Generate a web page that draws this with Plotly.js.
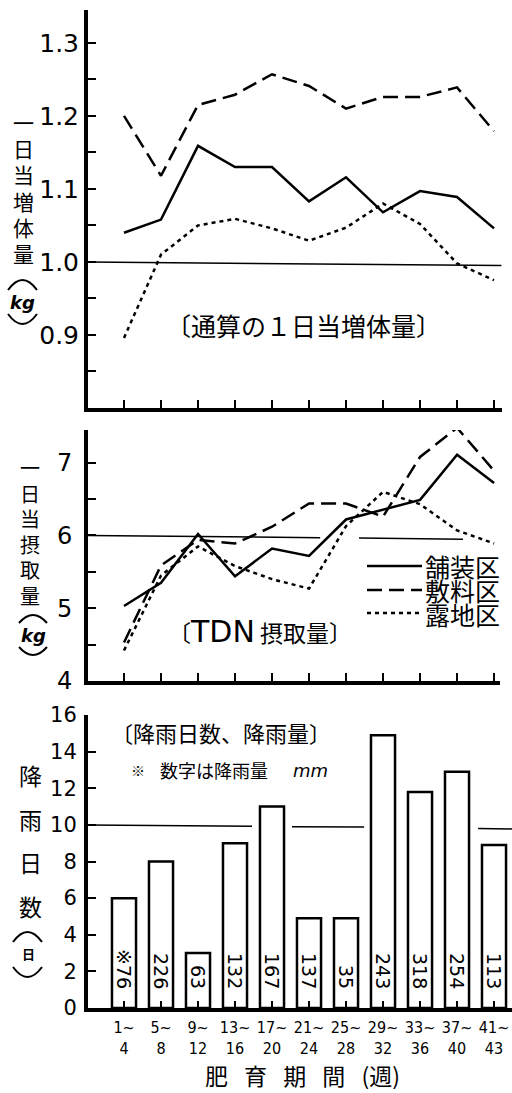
<!DOCTYPE html>
<html>
<head>
<meta charset="utf-8">
<script src="https://cdn.plot.ly/plotly-3.0.1.min.js"></script>
<style>html,body{margin:0;padding:0;background:#fff;}#chart{width:512px;height:1093px;}</style>
</head>
<body>
<div id="chart"></div>
<script>
// ---------- data ----------
const periods = ['1~4','5~8','9~12','13~16','17~20','21~24','25~28','29~32','33~36','37~40','41~43'];
const periodTickText = ['1~<br>4','5~<br>8','9~<br>12','13~<br>16','17~<br>20','21~<br>24','25~<br>28','29~<br>32','33~<br>36','37~<br>40','41~<br>43'];
const seriesNames = ['舗装区','敷料区','露地区'];

// 通算の1日当増体量 (kg)
const gainPaved   = [1.040,1.058,1.159,1.130,1.130,1.083,1.116,1.068,1.097,1.089,1.046];
const gainBedding = [1.200,1.118,1.215,1.229,1.257,1.241,1.210,1.226,1.226,1.239,1.179];
const gainOpen    = [0.896,1.010,1.050,1.059,1.046,1.029,1.047,1.080,1.052,0.998,0.975];

// TDN 摂取量 (kg)
const tdnPaved   = [5.03,5.35,6.02,5.44,5.82,5.72,6.22,6.35,6.49,7.11,6.72];
const tdnBedding = [4.53,5.59,5.94,5.89,6.12,6.44,6.44,6.26,7.08,7.48,6.89];
const tdnOpen    = [4.42,5.45,5.85,5.58,5.40,5.27,6.13,6.60,6.43,6.07,5.89];

// 降雨日数 (日) and 降雨量 (mm)
const rainDays   = [6,8,3,9,11,4.9,4.9,14.9,11.8,12.9,8.9];
const rainAmount = ['※76','226','63','132','167','137','35','243','318','254','113'];

// tick labels and titles
const gainTickVals = [0.85,0.9,0.95,1.0,1.05,1.1,1.15,1.2,1.25,1.3];
const gainTickText = ['','0.9','','1.0','','1.1','','1.2','','1.3'];
const tdnTickVals  = [4,4.5,5,5.5,6,6.5,7];
const tdnTickText  = ['4','','5','','6','','7'];
const rainTickVals = [0,2,4,6,8,10,12,14,16];
const rainTickText = ['0','2','4','6','8','10','12','14','16'];
const gainTitle = ['一','日','当','増','体','量'];
const tdnTitle  = ['一','日','当','摂','取','量'];
const rainTitle = ['降','雨','日','数'];

// ---------- helpers ----------
const W = 512, H = 1093;
const px = x => x / W;
const py = y => 1 - y / H;
const CJK = 'Noto Sans CJK JP';
const NUM = 'DejaVu Sans';
const dashes = ['solid', '15px,7px', '4px,4px'];
const sized = (s, size, fam) => `<span style="font-size:${size}px${fam ? ';font-family:' + fam : ''}">${s}</span>`;
// stack lines with a given pitch (line pitch = 1.3 x base font size)
const stack = (lines, size) => lines.map(s => sized(s, size)).join('<br>');

function lineTrace(y, i, xa, ya) {
  return {
    type: 'scatter', mode: 'lines', x: periods, y: y, name: seriesNames[i],
    xaxis: xa, yaxis: ya, cliponaxis: false, hoverinfo: 'skip',
    line: {color: '#000', width: 2.5, dash: dashes[i]}
  };
}

const traces = [
  lineTrace(gainPaved, 0, 'x', 'y'),
  lineTrace(gainBedding, 1, 'x', 'y'),
  lineTrace(gainOpen, 2, 'x', 'y'),
  lineTrace(tdnPaved, 0, 'x2', 'y2'),
  lineTrace(tdnBedding, 1, 'x2', 'y2'),
  lineTrace(tdnOpen, 2, 'x2', 'y2'),
  {
    type: 'bar', x: periods, y: rainDays, xaxis: 'x3', yaxis: 'y3', width: 0.65,
    marker: {color: '#fff', line: {color: '#000', width: 2.5}}, hoverinfo: 'skip'
  }
];

function xAxis(end, rangeEnd, anchor, labels) {
  return {
    domain: [px(88), px(end)], anchor: anchor, type: 'category',
    range: [-0.973, rangeEnd], tickvals: periods,
    ticktext: labels ? periodTickText : periods,
    showticklabels: !!labels, ticks: 'inside', ticklen: labels ? 7 : 8, tickwidth: 2, tickcolor: '#000',
    showline: true, linewidth: 4, linecolor: '#000', showgrid: false, zeroline: false,
    tickfont: {family: 'DejaVu Sans Condensed', size: 16, color: '#000'}, ticklabelstandoff: 2
  };
}
function yAxis(top, bottom, range, vals, text, anchor, size, standoff) {
  return {
    domain: [py(bottom), py(top)], anchor: anchor, range: range,
    tickmode: 'array', tickvals: vals, ticktext: text,
    ticks: 'inside', ticklen: 8, tickwidth: 2, tickcolor: '#000',
    showline: true, linewidth: 4, linecolor: '#000', showgrid: false, zeroline: false,
    tickfont: {family: NUM, size: size, color: '#000'}, ticklabelstandoff: standoff
  };
}

// ---------- shapes ----------
const shapes = [];
function refLine(xa, ya, x0, x1, y0, y1) {
  shapes.push({type: 'line', xref: xa, yref: ya, x0: x0, x1: x1, y0: y0, y1: y1,
    line: {color: '#000', width: 1.5}});
}
refLine('x', 'y', -0.973, 10.2, 1.0, 0.995);
refLine('x2', 'y2', -0.973, 5.3, 6.0, 5.97);
refLine('x2', 'y2', 6.35, 9.16, 5.965, 5.95);
refLine('x3', 'y3', -0.973, 3.46, 10.0, 9.93);
refLine('x3', 'y3', 4.54, 6.49, 9.9, 9.88);
refLine('x3', 'y3', 9.57, 10.486, 9.8, 9.78);

function arc(x0, x1, yEnd, yApex) {
  const cx = (x0 + x1) / 2, cy = 2 * yApex - yEnd;
  shapes.push({type: 'path', xref: 'paper', yref: 'paper',
    path: `M ${px(x0)},${py(yEnd)} Q ${px(cx)},${py(cy)} ${px(x1)},${py(yEnd)}`,
    line: {color: '#000', width: 2}});
}
arc(8, 37, 290, 280);  arc(8, 37, 314, 324);
arc(19, 47, 623, 615); arc(19, 47, 647, 655);
arc(13, 42, 942, 932); arc(13, 42, 967, 977);

// legend (middle panel)
const legendY = [566, 590, 613];
legendY.forEach((y, i) => {
  shapes.push({type: 'line', xref: 'paper', yref: 'paper', x0: px(367), x1: px(422), y0: py(y), y1: py(y),
    line: {color: '#000', width: 2.5, dash: dashes[i]}});
});

// ---------- annotations ----------
const annotations = [];
function ann(x, y, text, size, opts) {
  annotations.push(Object.assign({xref: 'paper', yref: 'paper', x: px(x), y: py(y), text: text,
    showarrow: false, xanchor: 'center', yanchor: 'middle',
    font: {family: CJK, size: size, color: '#000'}}, opts || {}));
}
// vertical axis titles (one text each, pitch set by base size)
ann(23, 188, stack(gainTitle, 21), 26.2 / 1.3);
ann(22, 302, '<b><i>kg</i></b>', 18, {font: {family: NUM, size: 18, color: '#000'}});
ann(30, 531, stack(tdnTitle, 20), 25.6 / 1.3);
ann(33, 635, '<b><i>kg</i></b>', 18, {font: {family: NUM, size: 18, color: '#000'}});
ann(30, 840, stack(rainTitle, 23), 43.7 / 1.3);
ann(28, 953, '<b>日</b>', 13);

// panel captions
ann(303, 325, '〔通算の１日当増体量〕', 25);
ann(260, 631, '〔' + sized('TDN', 30, 'DejaVu Sans') + ' 摂取量〕', 23);
ann(221, 732, '〔降雨日数、降雨量〕', 22);
ann(138, 770, '※', 14);
ann(158, 770, '数字は降雨量', 18, {xanchor: 'left'});
ann(291, 770, '<i>mm</i>', 18, {xanchor: 'left', font: {family: NUM, size: 18, color: '#000'}});

// legend text: one block, 24px pitch
ann(423, 589.5, stack(seriesNames, 25), 24 / 1.3, {xanchor: 'left', align: 'left'});

// x axis title
ann(302, 1075, '肥\u2002\u2009育\u2002\u2009期\u2002\u2009間\u2002\u2009(週)', 23);

// rainfall amounts, rotated inside the bars
rainAmount.forEach((t, i) => {
  annotations.push({xref: 'x3', yref: 'y3', x: periods[i], y: 0.93, text: t, textangle: 90,
    showarrow: false, xanchor: 'center', yanchor: 'bottom',
    font: {family: NUM, size: 19, color: '#000'}});
});

// ---------- layout ----------
const layout = {
  width: W, height: H, margin: {l: 0, r: 0, t: 0, b: 0},
  paper_bgcolor: '#fff', plot_bgcolor: 'rgba(0,0,0,0)', showlegend: false,
  xaxis: xAxis(502, 10.216, 'y', false),
  xaxis2: xAxis(500, 10.16, 'y2', false),
  xaxis3: xAxis(512, 10.486, 'y3', true),
  yaxis: yAxis(10, 408, [0.8, 1.345], gainTickVals, gainTickText, 'x', 25, 0),
  yaxis2: yAxis(430, 681, [4, 7.45], tdnTickVals, tdnTickText, 'x2', 24, 7),
  yaxis3: yAxis(715, 1008, [0, 16], rainTickVals, rainTickText, 'x3', 21, 3),
  shapes: shapes, annotations: annotations
};

Plotly.newPlot('chart', traces, layout, {staticPlot: true, displayModeBar: false});
</script>
</body>
</html>
